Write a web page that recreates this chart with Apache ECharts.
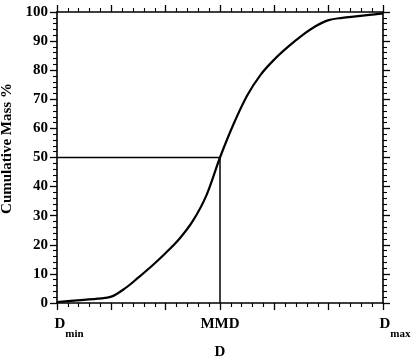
<!DOCTYPE html>
<html>
<head>
<meta charset="utf-8">
<script src="https://cdn.jsdelivr.net/npm/echarts@6/dist/echarts.min.js"></script>
<style>html,body{margin:0;padding:0;background:#fff}#c{width:417px;height:358px}</style>
</head>
<body>
<div id="c"></div>
<script>
// Cumulative mass curve (x in units of the D axis: 0 = Dmin, 3 = MMD, 6 = Dmax)
const curveX = [0, 0.25, 0.5, 0.75, 1, 1.25, 1.5, 1.75, 2, 2.25, 2.5, 2.75, 3, 3.25, 3.5, 3.75, 4, 4.25, 4.5, 4.75, 5, 5.25, 5.5, 5.75, 6];
const curveY = [0.3, 0.7, 1.1, 1.5, 2.2, 5.0, 8.8, 12.8, 17.2, 22.0, 28.2, 37.0, 50, 61.5, 71.3, 78.5, 83.7, 88.0, 91.8, 95.0, 97.2, 98.0, 98.5, 99.0, 99.5];
// MMD guide lines
const guideX = [0, 3, 3];
const guideY = [50, 50, 0];
// x tick labels
const xTickValues = [0, 3, 6];
const xTickLabels = ['{D|D}{sub|min}', '{M|MMD}', '{D|D}{sub|max}'];
const yTicks = [0, 10, 20, 30, 40, 50, 60, 70, 80, 90, 100];

const FONT = '"Liberation Serif", "Times New Roman", serif';
const chart = echarts.init(document.getElementById('c'), null, {renderer: 'canvas'});

const axisLine = {show: true, onZero: false, lineStyle: {color: '#000', width: 1.6}};
const tick = {show: true, inside: false, length: 7, lineStyle: {color: '#000', width: 1.3}};
const minor = {show: true, splitNumber: 5, length: 4, lineStyle: {color: '#000', width: 1.1}};

chart.setOption({
  animation: false,
  backgroundColor: '#fff',
  grid: {left: 57, right: 34, top: 12, bottom: 55, containLabel: false, outerBoundsMode: 'none'},
  xAxis: [{
    type: 'value', min: 0, max: 6, interval: 1,
    axisLine, axisTick: tick, minorTick: minor, splitLine: {show: false},
    name: 'D', nameLocation: 'middle', nameGap: 41,
    nameTextStyle: {fontFamily: FONT, fontWeight: 'bold', fontSize: 15, color: '#000'},
    axisLabel: {
      margin: 14, showMinLabel: true, showMaxLabel: true,
      formatter: v => { const i = xTickValues.indexOf(v); return i >= 0 ? xTickLabels[i] : ''; },
      rich: {
        D: {fontFamily: FONT, fontWeight: 'bold', fontSize: 15, color: '#000', lineHeight: 18, verticalAlign: 'top', padding: [0, 0, 0, 24]},
        sub: {fontFamily: FONT, fontWeight: 'bold', fontSize: 11, color: '#000', lineHeight: 13, verticalAlign: 'top', padding: [12, 0, 0, 0]},
        M: {fontFamily: FONT, fontWeight: 'bold', fontSize: 15, color: '#000', lineHeight: 18, verticalAlign: 'top'}
      }
    }
  }, {
    type: 'value', position: 'top', min: 0, max: 6, interval: 1,
    axisLine, axisTick: tick, minorTick: minor, splitLine: {show: false},
    axisLabel: {show: false}
  }],
  yAxis: [{
    type: 'value', min: 0, max: 100, interval: 10,
    axisLine, axisTick: tick, minorTick: minor, splitLine: {show: false},
    name: 'Cumulative Mass %', nameLocation: 'middle', nameGap: 34,
    nameTextStyle: {fontFamily: FONT, fontWeight: 'bold', fontSize: 15, color: '#000', padding: [0, 0, 0, 18]},
    axisLabel: {margin: 9, fontFamily: FONT, fontWeight: 'bold', fontSize: 15, color: '#000',
      formatter: v => yTicks.indexOf(v) >= 0 ? String(v) : ''}
  }, {
    type: 'value', position: 'right', min: 0, max: 100, interval: 10,
    axisLine, axisTick: tick, minorTick: minor, splitLine: {show: false},
    axisLabel: {show: false}
  }],
  series: [{
    type: 'line', xAxisIndex: 0, yAxisIndex: 0,
    data: curveX.map((x, i) => [x, curveY[i]]),
    smooth: 0.35, showSymbol: false, symbol: 'none',
    lineStyle: {color: '#000', width: 2.2}
  }, {
    type: 'line', xAxisIndex: 0, yAxisIndex: 0,
    data: guideX.map((x, i) => [x, guideY[i]]),
    showSymbol: false, symbol: 'none',
    lineStyle: {color: '#000', width: 1.5}
  }]
});
</script>
</body>
</html>
